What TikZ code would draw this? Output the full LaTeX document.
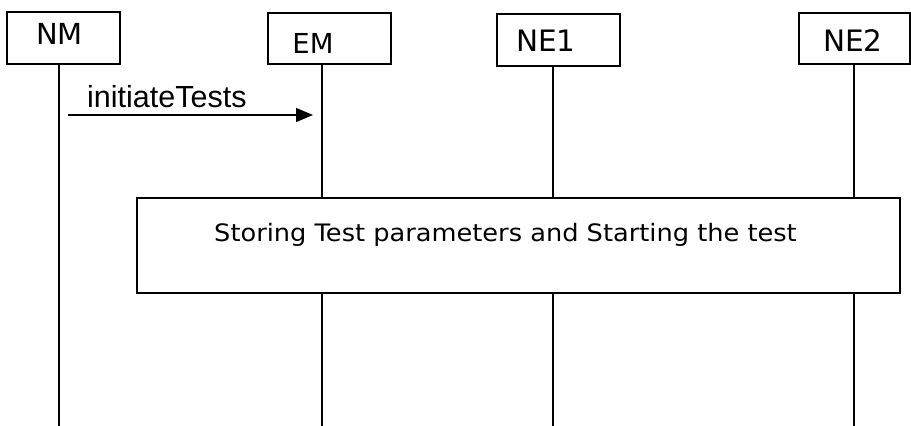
\documentclass[tikz,border=0pt]{standalone}
\usepackage{fontspec}
\setmainfont{DejaVu Sans}
\newfontfamily\arialfont{Liberation Sans}
\usetikzlibrary{arrows.meta}
\begin{document}
\begin{tikzpicture}[x=1pt,y=-1pt,
  actor/.style={draw, line width=1.3pt, fill=white, inner sep=0pt},
  life/.style={line width=1.2pt},
  lbl/.style={inner sep=0pt, anchor=base},
  msg/.style={line width=1.3pt, -{Triangle[length=17pt,width=14pt]}}]
\useasboundingbox (0,0) rectangle (911,426);
% lifeline coordinates
\coordinate (nmtop) at (59,64);   \coordinate (nmbot) at (59,426);
\coordinate (emtop) at (322,64);  \coordinate (embot) at (322,426);
\coordinate (ne1top) at (553,66); \coordinate (ne1bot) at (553,426);
\coordinate (ne2top) at (854,64); \coordinate (ne2bot) at (854,426);
\draw[life] (nmtop) -- (nmbot);
\draw[life] (emtop) -- (embot);
\draw[life] (ne1top) -- (ne1bot);
\draw[life] (ne2top) -- (ne2bot);
% actor boxes
\node[actor, minimum width=113pt, minimum height=52pt] (nm) at (63.5,38) {};
\node[actor, minimum width=123pt, minimum height=51pt] (em) at (329.5,38.5) {};
\node[actor, minimum width=123pt, minimum height=52pt] (ne1) at (558.5,40) {};
\node[actor, minimum width=111pt, minimum height=51pt] (ne2) at (854.5,38.5) {};
\node[lbl, font=\fontsize{29}{30}\selectfont] (nmt) at (59.5,44) {NM};
\node[lbl, font=\fontsize{27.5}{30}\selectfont] (emt) at (313,53) {EM};
\node[lbl, font=\fontsize{29.5}{30}\selectfont] (ne1t) at (546,51) {NE1};
\node[lbl, font=\fontsize{29.5}{30}\selectfont] (ne2t) at (853,51) {NE2};
% message
\coordinate (m1) at (68,115);
\coordinate (m2) at (313,115);
\draw[msg] (m1) -- (m2);
\node[inner sep=0pt, anchor=base west, font=\arialfont\fontsize{30.5}{32}\selectfont] (mt) at (87,107.5) {initiateTests};
% process box
\node[actor, minimum width=763pt, minimum height=95pt] (proc) at (518.5,245.5) {};
\node[lbl, font=\fontsize{24}{26}\selectfont] (proct) at (505.5,241.5) {\scalebox{1.069}[1]{Storing Test parameters and Starting the test}};
\end{tikzpicture}
\end{document}
